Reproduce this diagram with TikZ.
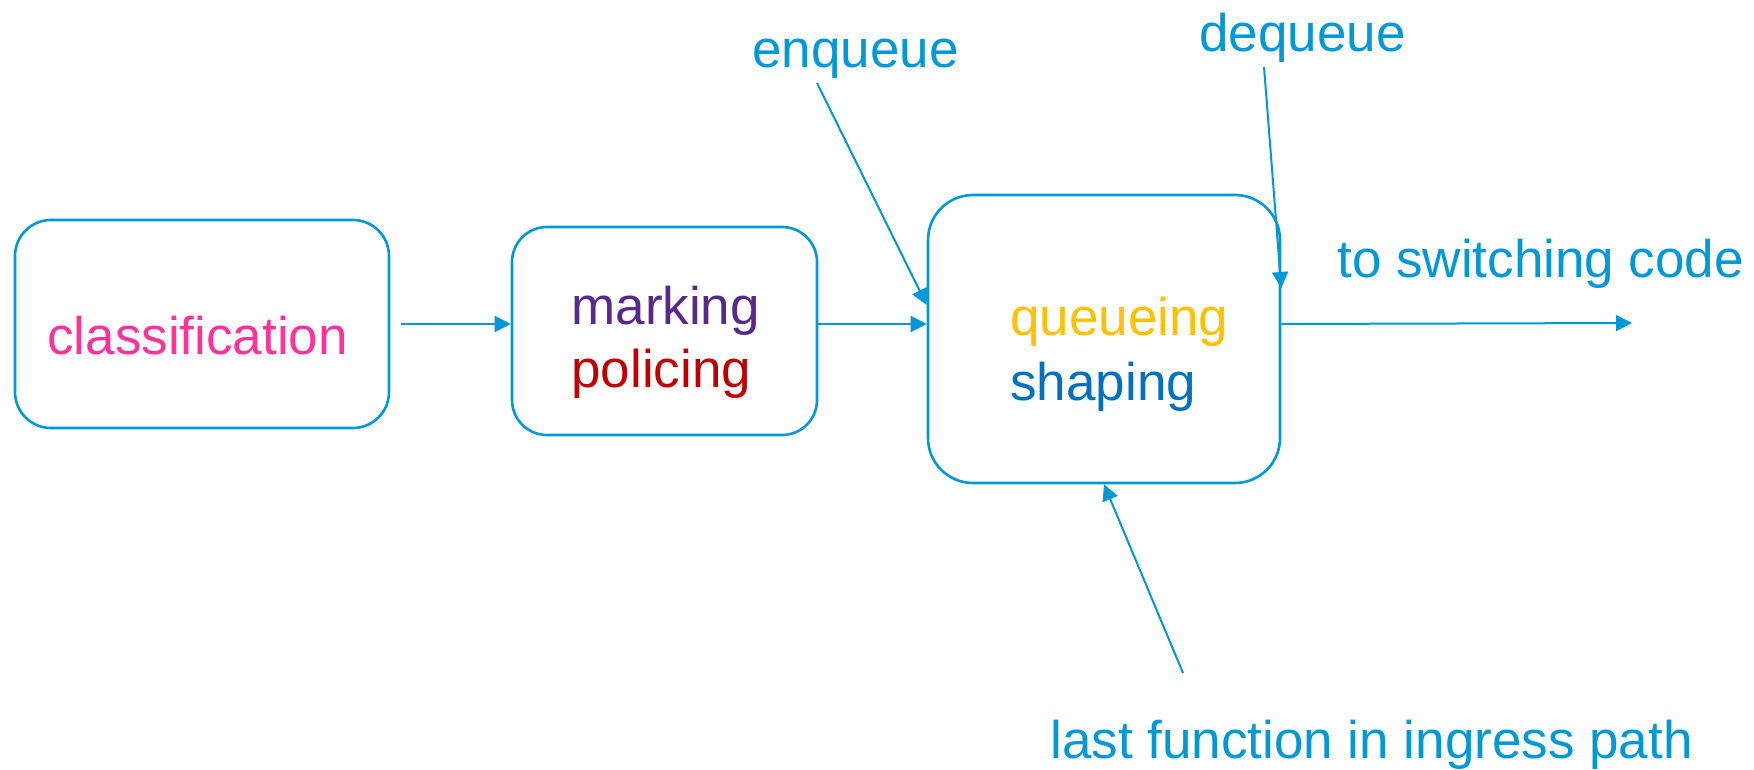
\documentclass[tikz,border=0pt]{standalone}
\usepackage{fontspec}
\setmainfont{Liberation Sans}
\usetikzlibrary{arrows.meta}
\definecolor{lineblue}{RGB}{0,152,214}
\definecolor{classpink}{RGB}{255,51,153}
\definecolor{markpurple}{RGB}{88,40,138}
\definecolor{policered}{RGB}{192,0,0}
\definecolor{queueyellow}{RGB}{255,192,0}
\definecolor{shapeblue}{RGB}{0,112,192}
\begin{document}
\begin{tikzpicture}[x=0.5pt,y=-0.5pt,
  stage/.style={draw=lineblue, line width=1.3pt, fill=white, inner sep=0pt},
  lbl/.style={anchor=base west, inner sep=0pt, font=\fontsize{26.5}{31.5}\selectfont},
  flow/.style={draw=lineblue, line width=1pt, -{Triangle[length=8pt,width=8pt]}}]
  \useasboundingbox (0,0) rectangle (1754,770);

  % processing stages
  \node[stage, minimum width=187pt, minimum height=104pt, rounded corners=18pt] (b1) at (202,324) {};
  \node[stage, minimum width=152.5pt, minimum height=104pt, rounded corners=17.5pt] (b2) at (664.5,331) {};
  \node[stage, minimum width=176pt, minimum height=144pt, rounded corners=22.5pt] (b3) at (1104,339) {};

  % stage texts
  \node[lbl, text=classpink] (tclass) at (47,354) {classification};
  \node[lbl, text=markpurple] (tmark) at (571,324) {marking};
  \node[lbl, text=policered] (tpol) at (571,387) {policing};
  \node[lbl, text=queueyellow] (tqueue) at (1010,335) {queueing};
  \node[lbl, text=shapeblue] (tshape) at (1010,400) {shaping};

  % callout labels
  \node[lbl, text=lineblue] (enq) at (752,68) {enqueue};
  \node[lbl, text=lineblue] (deq) at (1199,52) {dequeue};
  \node[lbl, text=lineblue] (tosw) at (1337,278) {to switching code};
  \node[lbl, text=lineblue] (last) at (1050,758) {last function in ingress path};

  % free ends of the connectors
  \coordinate (enqFrom) at (817,83);
  \coordinate (deqFrom) at (1264,67);
  \coordinate (lastFrom) at (1183,673);
  \coordinate (out) at (1632,323);

  % packet flow
  \draw[flow] ([xshift=5.5pt]b1.east) -- (b2.west |- b1.east);
  \draw[flow] (b2.east |- b1.east) -- (b3.west |- b1.east);
  \draw[flow] (b3.east |- b1.east) -- (out);

  % callouts
  \draw[flow] (enqFrom) -- ([yshift=17pt]b3.west);
  \draw[flow] (deqFrom) -- ([yshift=25.5pt]b3.east);
  \draw[flow] (lastFrom) -- (b3.south);
\end{tikzpicture}
\end{document}
